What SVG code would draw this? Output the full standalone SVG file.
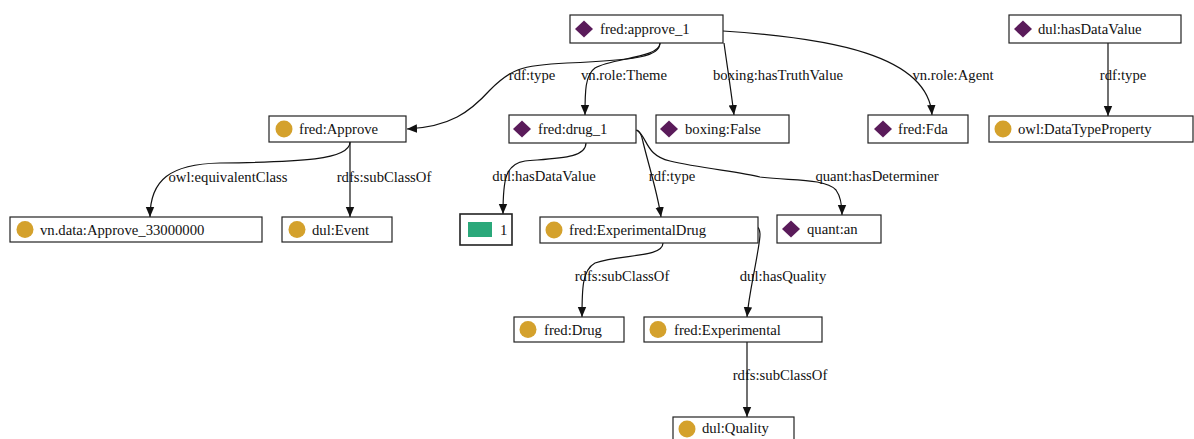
<svg xmlns="http://www.w3.org/2000/svg" width="1194" height="439" viewBox="0 0 1194 439">
<defs>
<style>
.box{fill:#fff;stroke:#222;stroke-width:1.2}
.t{font-family:"Liberation Serif","Times New Roman",serif;font-size:14.7px;fill:#111}
.lbl{font-family:"Liberation Serif","Times New Roman",serif;font-size:14.7px;fill:#111;text-anchor:middle}
.inst{fill:#5a1b5a}
.cls{fill:#d4a12c}
.lit{fill:#2aa87a}
.e{fill:none;stroke:#111;stroke-width:1.2;marker-end:url(#arr)}
</style>
<marker id="arr" viewBox="0 0 10 10" refX="10" refY="5" markerWidth="10" markerHeight="10" markerUnits="userSpaceOnUse" orient="auto">
<path d="M0,0.8 L10,5 L0,9.2 Z" fill="#111"/>
</marker>
</defs>
<rect width="1194" height="439" fill="#fff"/>
<g id="connectors">
<path class="e" d="M660,43 C660,56 640,60 567,63 C520,65 510,70 490,90 C470,112 450,127 407,129"/>
<path class="e" d="M660,43 C660,58 612,58 595,68 C585,75 585,92 585,115"/>
<path class="e" d="M724,43 C727,65 731,90 734,115"/>
<path class="e" d="M723,31 C830,38 928,55 932,115"/>
<path class="e" d="M1108,43 L1108,116"/>
<path class="e" d="M350,142 C350,160 300,162 220,163 C170,164 150,180 150,217"/>
<path class="e" d="M350,142 L350,217"/>
<path class="e" d="M586,143 C586,158 560,158 525,161 C505,164 503,180 503,214"/>
<path class="e" d="M636,130 C640,131 642,136 643,142 C650,170 658,195 661,217"/>
<path class="e" d="M637,130 C648,138 645,155 670,161 C700,168 740,172 760,177 C790,181 825,178 836,190 C841,197 842,205 842,215"/>
<path class="e" d="M663,243 C663,258 620,254 595,263 C582,270 582,290 582,317"/>
<path class="e" d="M756,226 C762,229 760,238 758,250 C754,275 749,295 747,317"/>
<path class="e" d="M747,342 L747,417"/>
<text class="lbl" x="532" y="80">rdf:type</text>
<text class="lbl" x="624" y="80">vn.role:Theme</text>
<text class="lbl" x="778" y="80">boxing:hasTruthValue</text>
<text class="lbl" x="953" y="80">vn.role:Agent</text>
<text class="lbl" x="1123" y="80">rdf:type</text>
<text class="lbl" x="228" y="182">owl:equivalentClass</text>
<text class="lbl" x="384" y="182">rdfs:subClassOf</text>
<text class="lbl" x="544" y="181">dul:hasDataValue</text>
<text class="lbl" x="672" y="181">rdf:type</text>
<text class="lbl" x="877" y="181">quant:hasDeterminer</text>
<text class="lbl" x="622" y="281">rdfs:subClassOf</text>
<text class="lbl" x="783" y="281">dul:hasQuality</text>
<text class="lbl" x="780" y="380">rdfs:subClassOf</text>
</g>
<g id="n_approve_1">
<rect class="box" x="570" y="15" width="153" height="28"/>
<path class="inst" d="M584,20.5 L593,29 L584,37.5 L575,29 Z"/>
<text class="t" x="600" y="34">fred:approve_1</text>
</g>
<g id="n_hasDataValue">
<rect class="box" x="1009" y="15" width="172" height="28"/>
<path class="inst" d="M1023,20.5 L1032,29 L1023,37.5 L1014,29 Z"/>
<text class="t" x="1038" y="34">dul:hasDataValue</text>
</g>
<g id="n_Approve">
<rect class="box" x="269" y="116" width="137" height="26"/>
<circle class="cls" cx="284" cy="129" r="8.5"/>
<text class="t" x="299" y="134">fred:Approve</text>
</g>
<g id="n_drug_1">
<rect class="box" x="509" y="115" width="127" height="28"/>
<path class="inst" d="M522,120.5 L531,129 L522,137.5 L513,129 Z"/>
<text class="t" x="538" y="134">fred:drug_1</text>
</g>
<g id="n_False">
<rect class="box" x="656" y="115" width="133" height="28"/>
<path class="inst" d="M669,120.5 L678,129 L669,137.5 L660,129 Z"/>
<text class="t" x="685" y="134">boxing:False</text>
</g>
<g id="n_Fda">
<rect class="box" x="868" y="115" width="100" height="28"/>
<path class="inst" d="M883,120.5 L892,129 L883,137.5 L874,129 Z"/>
<text class="t" x="898" y="134">fred:Fda</text>
</g>
<g id="n_DataTypeProperty">
<rect class="box" x="989" y="116" width="204" height="26"/>
<circle class="cls" cx="1003" cy="129" r="8.5"/>
<text class="t" x="1018" y="134">owl:DataTypeProperty</text>
</g>
<g id="n_Approve_33000000">
<rect class="box" x="10" y="217" width="252" height="25"/>
<circle class="cls" cx="25" cy="229.5" r="8.5"/>
<text class="t" x="40" y="234.5">vn.data:Approve_33000000</text>
</g>
<g id="n_Event">
<rect class="box" x="282" y="217" width="110" height="25"/>
<circle class="cls" cx="297" cy="229.5" r="8.5"/>
<text class="t" x="312" y="234.5">dul:Event</text>
</g>
<g id="n_1">
<rect class="box" x="460" y="214" width="52" height="31" style="stroke-width:1.6"/>
<rect class="lit" x="468" y="222" width="24" height="15"/>
<text class="t" x="500" y="234.5">1</text>
</g>
<g id="n_ExperimentalDrug">
<rect class="box" x="540" y="217" width="218" height="26"/>
<circle class="cls" cx="554" cy="230" r="8.5"/>
<text class="t" x="569" y="235">fred:ExperimentalDrug</text>
</g>
<g id="n_an">
<rect class="box" x="777" y="215" width="104" height="28"/>
<path class="inst" d="M791,220.5 L800,229 L791,237.5 L782,229 Z"/>
<text class="t" x="807" y="234">quant:an</text>
</g>
<g id="n_Drug">
<rect class="box" x="514" y="317" width="110" height="25"/>
<circle class="cls" cx="528" cy="329.5" r="8.5"/>
<text class="t" x="544" y="334.5">fred:Drug</text>
</g>
<g id="n_Experimental">
<rect class="box" x="644" y="317" width="178" height="25"/>
<circle class="cls" cx="658" cy="329.5" r="8.5"/>
<text class="t" x="674" y="334.5">fred:Experimental</text>
</g>
<g id="n_Quality">
<rect class="box" x="673" y="417" width="121" height="30"/>
<circle class="cls" cx="687" cy="429" r="8.5"/>
<text class="t" x="702" y="433">dul:Quality</text>
</g>
</svg>
